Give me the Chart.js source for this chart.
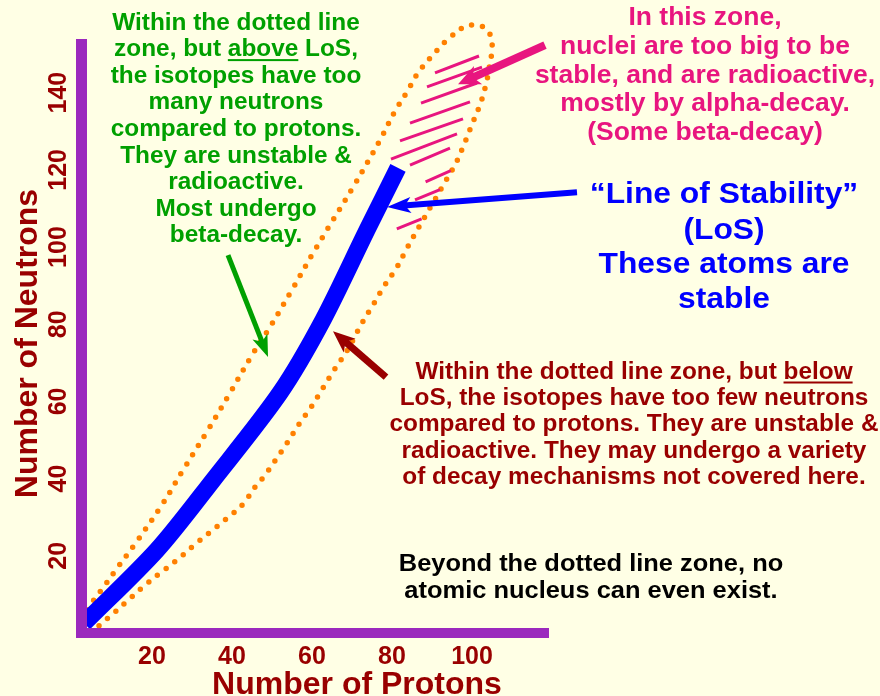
<!DOCTYPE html>
<html>
<head>
<meta charset="utf-8">
<script src="https://cdn.jsdelivr.net/npm/chart.js@4.4.1/dist/chart.umd.min.js"></script>
<style>
    html, body { margin: 0; padding: 0; background: #ffffe5; }
    #wrap { width: 880px; height: 696px; }
</style>
</head>
<body>
<div id="wrap"><canvas id="nuclide-chart" width="880" height="696"></canvas></div>
<script>
// Axis ticks.
var protonTicks = [20, 40, 60, 80, 100];
var neutronTicks = [20, 40, 60, 80, 100, 120, 140];

// Line of stability (thick blue).
var losProtons = [3, 21.25, 35.25, 52, 62.75, 73.75, 81.5];
var losNeutrons = [2.5, 21.5, 39.6, 62.2, 81.1, 104.4, 120.5];

// Dotted zone boundary, a closed loop read clockwise from the origin.
var zoneProtons = [2.75, 4, 8.25, 11.5, 16.25, 22.5, 27.75, 34, 39.5, 45, 49.5, 55, 60.25, 65.25, 70.25,
    77, 80.75, 83.75, 86.5, 90, 93.75, 98, 100.75, 103.25, 104.75, 105, 104.5, 103.75, 102.25, 100.25,
    98.25, 96, 93.25, 90.5, 87.75, 83.75, 81.25, 78.25, 75.25, 72.5, 68.75, 65.5, 62.75, 59.75, 56.75,
    53.75, 50.75, 47.75, 45.75, 42.75, 38.5, 34.25, 30, 26, 21.75, 17.5, 13.5, 9.25, 7.25, 4.5, 2.75];
var zoneNeutrons = [0.5, 6.0, 12.4, 17.1, 23.8, 33.2, 42.2, 52.6, 62.2, 72.0, 79.3, 88.9, 98.4, 107.0, 115.5,
    127.7, 135.2, 140.2, 145.1, 149.5, 153.6, 157.0, 157.5, 156.7, 154.4, 151.0, 147.7, 143.3, 137.6, 132.4,
    127.2, 121.8, 116.8, 111.9, 107.0, 99.7, 94.8, 90.2, 85.0, 80.3, 73.1, 68.1, 63.5, 58.5, 54.1,
    49.2, 44.6, 40.2, 37.8, 33.4, 29.5, 25.9, 22.3, 18.7, 15.3, 11.7, 8.0, 4.1, 2.3, 0.3, 0.5];

// Hatch strokes in the "too big" zone.
var hatchFromP = [90.75, 88.75, 87.25, 84.5, 82, 79.75, 84.5, 88.4, 85.75, 81.2];
var hatchFromN = [145.1, 141.5, 137.3, 132.1, 127.5, 122.8, 121.2, 116.9, 112.2, 104.7];
var hatchToP = [101.75, 102.5, 101.25, 99.5, 97.75, 96.25, 94.5, 94.7, 92, 87.4];
var hatchToN = [149.5, 146.6, 142.5, 137.6, 133.2, 129.3, 125.6, 119.8, 114.9, 107.3];

var darkRed = '#990000';
var fontFamily = '"Liberation Sans", Arial, Helvetica, sans-serif';
var textStretch = 1.06;

// Callout arrows, ends given in axis units.
var arrows = [
    {from: [118.25, 152.3], to: [96.5, 142.2], color: '#e8157f', width: 8, head: 22, half: 10},
    {from: [126.25, 114.2], to: [78.75, 110.4], color: '#0000ff', width: 6, head: 24, half: 8},
    {from: [39, 97.9], to: [49, 71.5], color: '#00a000', width: 5, head: 22, half: 8},
    {from: [78.5, 66.3], to: [65.25, 78.2], color: darkRed, width: 7, head: 22, half: 9}
];

var notes = [
    {color: '#00a000', size: 23, cx: 236, y: 29.5, step: 26.6, underline: {line: 1, word: 'above'},
        lines: ['Within the dotted line', 'zone, but above LoS,', 'the isotopes have too', 'many neutrons',
            'compared to protons.', 'They are unstable &', 'radioactive.', 'Most undergo', 'beta-decay.']},
    {color: '#e8157f', size: 25, cx: 705, y: 25, step: 28.8,
        lines: ['In this zone,', 'nuclei are too big to be', 'stable, and are radioactive,',
            'mostly by alpha-decay.', '(Some beta-decay)']},
    {color: '#0000ff', size: 30, cx: 724, baselines: [203, 239, 273, 308],
        lines: ['\u201cLine of Stability\u201d', '(LoS)', 'These atoms are', 'stable']},
    {color: darkRed, size: 23, cx: 634, y: 378.5, step: 26.4, underline: {line: 0, word: 'below'},
        lines: ['Within the dotted line zone, but below', 'LoS, the isotopes have too few neutrons',
            'compared to protons. They are unstable &', 'radioactive. They may undergo a variety',
            'of decay mechanisms not covered here.']},
    {color: '#000000', size: 24, cx: 591, baselines: [571, 598],
        lines: ['Beyond the dotted line zone, no', 'atomic nucleus can even exist.']}
];

function pairs(xs, ys) {
    return xs.map(function (x, i) {
        return {x: x, y: ys[i]};
    });
}

function hatchPoints() {
    var pts = [];
    hatchFromP.forEach(function (p, i) {
        pts.push({x: p, y: hatchFromN[i]});
        pts.push({x: hatchToP[i], y: hatchToN[i]});
        pts.push({x: hatchToP[i], y: null});
    });
    return pts;
}

function drawArrow(ctx, from, to, a) {
    var dx = to.x - from.x;
    var dy = to.y - from.y;
    var len = Math.sqrt(dx * dx + dy * dy);
    var ux = dx / len;
    var uy = dy / len;
    var bx = to.x - ux * a.head;
    var by = to.y - uy * a.head;
    ctx.strokeStyle = a.color;
    ctx.fillStyle = a.color;
    ctx.lineWidth = a.width;
    ctx.lineCap = 'butt';
    ctx.beginPath();
    ctx.moveTo(from.x, from.y);
    ctx.lineTo(to.x - ux * a.head * 0.7, to.y - uy * a.head * 0.7);
    ctx.stroke();
    ctx.beginPath();
    ctx.moveTo(to.x, to.y);
    ctx.lineTo(bx - uy * a.half, by + ux * a.half);
    ctx.lineTo(to.x - ux * a.head * 0.75, to.y - uy * a.head * 0.75);
    ctx.lineTo(bx + uy * a.half, by - ux * a.half);
    ctx.closePath();
    ctx.fill();
}

function drawNote(ctx, note) {
    ctx.save();
    ctx.font = 'bold ' + note.size + 'px ' + fontFamily;
    ctx.fillStyle = note.color;
    ctx.textAlign = 'left';
    ctx.textBaseline = 'alphabetic';
    note.lines.forEach(function (line, i) {
        var y = note.baselines ? note.baselines[i] : note.y + i * note.step;
        var w = ctx.measureText(line).width * textStretch;
        ctx.save();
        ctx.translate(note.cx - w / 2, y);
        ctx.scale(textStretch, 1);
        ctx.fillText(line, 0, 0);
        if (note.underline && note.underline.line === i) {
            var idx = line.indexOf(note.underline.word);
            var ux = ctx.measureText(line.slice(0, idx)).width;
            var uw = ctx.measureText(note.underline.word).width;
            ctx.fillRect(ux, 3, uw, 2);
        }
        ctx.restore();
    });
    ctx.restore();
}

var decorPlugin = {
    id: 'decor',
    beforeDraw: function (chart) {
        var ctx = chart.ctx;
        ctx.save();
        ctx.fillStyle = '#ffffe5';
        ctx.fillRect(0, 0, chart.width, chart.height);
        ctx.restore();
    },
    afterDatasetsDraw: function (chart) {
        var ctx = chart.ctx;
        var area = chart.chartArea;
        var xs = chart.scales.x;
        var ys = chart.scales.y;
        ctx.save();

        // Thick purple axes sit on top of the data.
        ctx.fillStyle = '#9b29bd';
        ctx.fillRect(area.left - 5, area.top, 11, area.bottom + 5 - area.top);
        ctx.fillRect(area.left - 5, area.bottom - 5, area.right - area.left + 5, 10);

        arrows.forEach(function (a) {
            drawArrow(ctx,
                {x: xs.getPixelForValue(a.from[0]), y: ys.getPixelForValue(a.from[1])},
                {x: xs.getPixelForValue(a.to[0]), y: ys.getPixelForValue(a.to[1])}, a);
        });

        notes.forEach(function (n) {
            drawNote(ctx, n);
        });

        // Axis titles.
        ctx.fillStyle = darkRed;
        ctx.font = 'bold 32px ' + fontFamily;
        ctx.textAlign = 'center';
        ctx.textBaseline = 'alphabetic';
        ctx.fillText('Number of Protons', 357, 694);
        ctx.translate(37, 343.5);
        ctx.rotate(-Math.PI / 2);
        ctx.fillText('Number of Neutrons', 0, 0);
        ctx.restore();
    }
};

var tickFont = {family: fontFamily, size: 25, weight: 'bold'};

new Chart(document.getElementById('nuclide-chart'), {
    type: 'scatter',
    data: {
        datasets: [
            {
                label: 'Line of Stability',
                data: pairs(losProtons, losNeutrons),
                showLine: true,
                borderColor: '#0000ff',
                borderWidth: 17,
                borderCapStyle: 'butt',
                borderJoinStyle: 'round',
                pointRadius: 0,
                tension: 0.3,
                order: 0
            },
            {
                label: 'Alpha zone',
                data: hatchPoints(),
                showLine: true,
                spanGaps: false,
                borderColor: '#e8157f',
                borderWidth: 3,
                pointRadius: 0,
                tension: 0,
                clip: false,
                order: 1
            },
            {
                label: 'Dotted zone',
                data: pairs(zoneProtons, zoneNeutrons),
                showLine: true,
                borderColor: '#ff8000',
                borderWidth: 5.5,
                borderDash: [0, 11],
                borderCapStyle: 'round',
                pointRadius: 0,
                tension: 0.4,
                clip: false,
                order: 2
            }
        ]
    },
    options: {
        responsive: false,
        animation: false,
        events: [],
        layout: {padding: {left: 0, right: 331, top: 39, bottom: 0}},
        elements: {line: {capBezierPoints: false}},
        plugins: {
            legend: {display: false},
            tooltip: {enabled: false}
        },
        scales: {
            x: {
                type: 'linear',
                min: 2.25,
                max: 119.25,
                grid: {display: false, drawTicks: false},
                border: {display: false},
                afterBuildTicks: function (scale) {
                    scale.ticks = protonTicks.map(function (v) {
                        return {value: v};
                    });
                },
                afterFit: function (scale) {
                    scale.height = 63;
                },
                ticks: {
                    autoSkip: false,
                    maxRotation: 0,
                    padding: 9,
                    color: darkRed,
                    font: tickFont
                }
            },
            y: {
                type: 'linear',
                min: 0,
                max: 153.9,
                grid: {display: false, drawTicks: false},
                border: {display: false},
                afterBuildTicks: function (scale) {
                    scale.ticks = neutronTicks.map(function (v) {
                        return {value: v};
                    });
                },
                afterFit: function (scale) {
                    scale.width = 81;
                },
                ticks: {
                    autoSkip: false,
                    minRotation: 90,
                    maxRotation: 90,
                    crossAlign: 'center',
                    padding: 1,
                    color: darkRed,
                    font: tickFont
                }
            }
        }
    },
    plugins: [decorPlugin]
});
</script>
</body>
</html>
